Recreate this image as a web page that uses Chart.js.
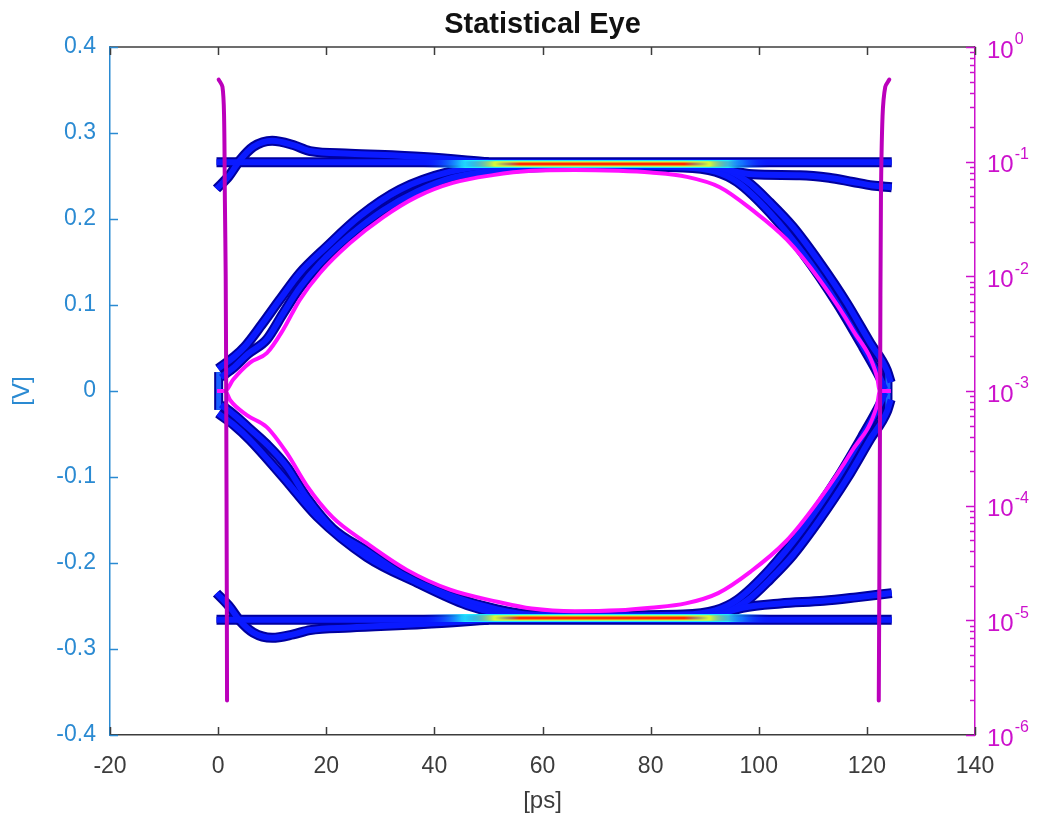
<!DOCTYPE html>
<html>
<head>
<meta charset="utf-8">
<title>Statistical Eye</title>
<script src="https://cdn.jsdelivr.net/npm/chart.js@4.4.0/dist/chart.umd.min.js"></script>
<style>
  html, body { margin: 0; padding: 0; background: #ffffff; }
  #wrap { width: 1042px; height: 825px; }
</style>
</head>
<body>
<div id="wrap"><canvas id="eyeChart" width="1042" height="825"></canvas></div>
<script>
// ---------- values (x in ps, V in volts) ----------
const chartTitle = 'Statistical Eye';
const xMin = -20, xMax = 140, xStep = 20;
const vMin = -0.4, vMax = 0.4, vStep = 0.1;
const berMin = 1e-6, berMax = 1;

// flat "1" and "0" rails
const railUpX = [-0.3, 124.6];
const railUpV = [0.266, 0.266];
const railLoX = [-0.3, 124.6];
const railLoV = [-0.266, -0.266];

// overshoot right after a transition
const overUpX = [-0.3, 2, 4, 6.5, 10, 13.9, 17, 24.4, 38, 50];
const overUpV = [0.235, 0.25, 0.268, 0.284, 0.291, 0.286, 0.279, 0.276, 0.272, 0.266];
const overLoX = [-0.3, 2, 4, 6.5, 10, 13.9, 17, 24.4, 38, 50];
const overLoV = [-0.235, -0.25, -0.267, -0.281, -0.287, -0.283, -0.278, -0.275, -0.271, -0.266];

// droop at the end of the UI
const droopUpX = [88, 93, 98.9, 107.6, 113, 117.4, 121, 124.6];
const droopUpV = [0.265, 0.259, 0.252, 0.251, 0.248, 0.243, 0.239, 0.237];
const droopLoX = [88, 93, 97, 104, 112, 118, 124.6];
const droopLoV = [-0.265, -0.259, -0.252, -0.247, -0.244, -0.24, -0.235];

// rising edges (left) - outer and inner trace
const riseOutX = [0, 3, 5, 7.7, 11.4, 15.1, 20.1, 26.2, 33.6, 42.9, 50.8, 58, 76];
const riseOutV = [0.026, 0.04, 0.052, 0.074, 0.106, 0.137, 0.168, 0.203, 0.234, 0.255, 0.262, 0.263, 0.263];
const riseInX = [0.5, 3, 5.5, 9, 12, 15.1, 18.8, 24.4, 30.5, 36.8, 43.4, 50.8, 58, 76];
const riseInV = [0.016, 0.028, 0.043, 0.06, 0.09, 0.12, 0.148, 0.181, 0.21, 0.232, 0.248, 0.256, 0.26, 0.261];
// falling edges (left, lower half)
const fallOutX = [0, 3, 5.9, 12, 18.3, 27.5, 36.8, 46, 52, 58, 76];
const fallOutV = [-0.026, -0.04, -0.057, -0.1, -0.146, -0.193, -0.223, -0.249, -0.259, -0.263, -0.263];
const fallInX = [0.5, 3, 5.5, 9, 12.7, 16.4, 21.2, 27.5, 34.9, 42.9, 51.6, 58, 76];
const fallInV = [-0.016, -0.028, -0.042, -0.062, -0.088, -0.124, -0.16, -0.186, -0.216, -0.238, -0.254, -0.26, -0.261];

// edges at the right side of the eye
const rightUpOutX = [70, 86, 94, 98, 102.1, 106.3, 111.3, 116.3, 120.6, 123.7, 124.4];
const rightUpOutV = [0.263, 0.263, 0.257, 0.243, 0.219, 0.191, 0.149, 0.102, 0.056, 0.024, 0.01];
const rightUpInX = [70, 86, 92, 96, 102.1, 108.2, 114.5, 119.3, 122.4, 123.4];
const rightUpInV = [0.261, 0.26, 0.255, 0.243, 0.207, 0.16, 0.102, 0.051, 0.016, 0.002];
const rightLoOutX = [70, 86, 94, 98, 102.1, 106.3, 111.3, 116.3, 120.6, 123.7, 124.4];
const rightLoOutV = [-0.263, -0.263, -0.257, -0.243, -0.219, -0.191, -0.149, -0.102, -0.056, -0.024, -0.01];
const rightLoInX = [70, 86, 92, 96, 102.1, 108.2, 114.5, 119.3, 122.4, 123.4];
const rightLoInV = [-0.261, -0.26, -0.255, -0.243, -0.207, -0.16, -0.102, -0.051, -0.016, -0.002];

// crossing stubs around 0 V
const crossLX = [0.1, 0.1];
const crossLV = [-0.022, 0.022];
const crossRX = [123.9, 123.9];
const crossRV = [-0.02, 0.02];

// dense (hot) part of the rails
const hotCyanX = [38, 102];
const hotYellowX = [45, 97];
const hotRedX = [51, 91];
const hotUpV = [0.264, 0.264];
const hotLoV = [-0.264, -0.264];

// BER contour of the eye opening
const contUpX = [-0.2, 1.3, 2.75, 5.9, 9, 12, 15.1, 18.8, 24.4, 30.5, 36.8, 43.4, 50.8, 58, 66, 74, 80, 86.7, 92.8, 98.9, 105.2, 111.3, 117.4, 121.9, 122.4, 124.4];
const contUpV = [0, 0, 0.013, 0.033, 0.044, 0.071, 0.106, 0.137, 0.172, 0.202, 0.226, 0.242, 0.251, 0.256, 0.257, 0.256, 0.254, 0.249, 0.237, 0.21, 0.176, 0.129, 0.071, 0.016, 0, 0];
const contLoX = [-0.2, 1.3, 2.2, 5.3, 9, 12.7, 16.4, 21.2, 27.5, 34.9, 42.9, 51.6, 58, 66, 74, 80, 86.5, 92.5, 98.5, 105, 111, 117.2, 121.9, 122.4, 124.4];
const contLoV = [0, 0, -0.0105, -0.028, -0.042, -0.072, -0.11, -0.147, -0.177, -0.208, -0.231, -0.245, -0.253, -0.256, -0.255, -0.252, -0.247, -0.235, -0.21, -0.175, -0.128, -0.07, -0.016, 0, 0];

// bathtub curves (right axis, BER)
const tubLeftX = [0.1, 0.8, 1.1, 1.25, 1.4, 1.5, 1.6, 1.65];
const tubLeftBer = [0.52, 0.45, 0.25, 0.046, 1e-2, 8e-4, 2e-5, 2e-6];
const tubRightX = [124.15, 123.4, 122.9, 122.6, 122.45, 122.3, 122.2];
const tubRightBer = [0.52, 0.45, 0.25, 0.046, 1e-3, 2e-5, 2e-6];

// ---------- colours ----------
const grayAxis = '#3c3c3c';
const blueAxis = '#2a8ad2';
const magAxis = '#cc11cc';
const bandEdge = '#00009e';
const bandCore = '#0a1aff';

function pts(xs, ys) {
  return xs.map((x, i) => ({ x: x, y: ys[i] }));
}

let datasets = [];

// each blue trace = dark outline + brighter core
function band(name, xs, ys) {
  datasets.push({
    label: name + ' edge', data: pts(xs, ys), yAxisID: 'y',
    borderColor: bandEdge, borderWidth: 10, pointRadius: 0,
    cubicInterpolationMode: 'monotone', borderCapStyle: 'butt',
    order: 20
  });
  datasets.push({
    label: name, data: pts(xs, ys), yAxisID: 'y',
    borderColor: bandCore, borderWidth: 6, pointRadius: 0,
    cubicInterpolationMode: 'monotone', borderCapStyle: 'butt',
    order: 19
  });
}

band('rail up', railUpX, railUpV);
band('rail low', railLoX, railLoV);
band('overshoot up', overUpX, overUpV);
band('overshoot low', overLoX, overLoV);
band('droop up', droopUpX, droopUpV);
band('droop low', droopLoX, droopLoV);
band('rise out', riseOutX, riseOutV);
band('rise in', riseInX, riseInV);
band('fall out', fallOutX, fallOutV);
band('fall in', fallInX, fallInV);
band('right up out', rightUpOutX, rightUpOutV);
band('right up in', rightUpInX, rightUpInV);
band('right low out', rightLoOutX, rightLoOutV);
band('right low in', rightLoInX, rightLoInV);

[[crossLX, crossLV], [crossRX, crossRV]].forEach(function (c, i) {
  datasets.push({ label: 'cross ' + i + ' edge', data: pts(c[0], c[1]), yAxisID: 'y',
    borderColor: bandEdge, borderWidth: 9, pointRadius: 0, order: 20 });
  datasets.push({ label: 'cross ' + i, data: pts(c[0], c[1]), yAxisID: 'y',
    borderColor: '#1a60ff', borderWidth: 5, pointRadius: 0, order: 19 });
});

// hot stripes on the rails, faded at both ends with a gradient along x
function fadeGradient(color, x0, x1) {
  return function (context) {
    const chart = context.chart;
    const sx = chart.scales.x;
    if (!sx || !chart.chartArea) return color;
    const p0 = sx.getPixelForValue(x0), p1 = sx.getPixelForValue(x1);
    const g = chart.ctx.createLinearGradient(p0, 0, p1, 0);
    g.addColorStop(0, 'rgba(10,26,255,0)');
    g.addColorStop(0.12, color);
    g.addColorStop(0.88, color);
    g.addColorStop(1, 'rgba(10,26,255,0)');
    return g;
  };
}
function hot(xs, ys, color, w, ord) {
  datasets.push({ label: 'hot', data: pts(xs, ys), yAxisID: 'y',
    borderColor: fadeGradient(color, xs[0], xs[xs.length - 1]),
    borderWidth: w, pointRadius: 0, order: ord });
}
hot(hotCyanX, hotUpV, '#20e8ff', 8, 15);
hot(hotYellowX, hotUpV, '#e0ff30', 5.5, 14);
hot(hotRedX, hotUpV, '#ff2a00', 3, 13);
hot(hotCyanX, hotLoV, '#20e8ff', 8, 15);
hot(hotYellowX, hotLoV, '#e0ff30', 5.5, 14);
hot(hotRedX, hotLoV, '#ff2a00', 3, 13);

// contour
datasets.push({ label: 'contour up', data: pts(contUpX, contUpV), yAxisID: 'y',
  borderColor: '#ff10ff', borderWidth: 4, pointRadius: 0,
  cubicInterpolationMode: 'monotone', order: 5 });
datasets.push({ label: 'contour low', data: pts(contLoX, contLoV), yAxisID: 'y',
  borderColor: '#ff10ff', borderWidth: 4, pointRadius: 0,
  cubicInterpolationMode: 'monotone', order: 5 });

// bathtubs on the log axis
datasets.push({ label: 'bathtub left', data: pts(tubLeftX, tubLeftBer), yAxisID: 'y2',
  borderColor: '#bb00bb', borderWidth: 4, pointRadius: 0, tension: 0.3,
  borderCapStyle: 'round', order: 1 });
datasets.push({ label: 'bathtub right', data: pts(tubRightX, tubRightBer), yAxisID: 'y2',
  borderColor: '#bb00bb', borderWidth: 4, pointRadius: 0, tension: 0.3,
  borderCapStyle: 'round', order: 1 });

// title over the plot box, inward ticks, top edge and 10^k labels on the right axis
const axesDeco = {
  id: 'axesDeco',
  afterDatasetsDraw(chart) {
    const ctx = chart.ctx;
    const a = chart.chartArea;
    const sx = chart.scales.x, sy = chart.scales.y, sr = chart.scales.y2;
    ctx.save();

    ctx.fillStyle = '#111111';
    ctx.font = 'bold 29px "Liberation Sans", Arial, sans-serif';
    ctx.textAlign = 'center';
    ctx.textBaseline = 'middle';
    ctx.fillText(chartTitle, (a.left + a.right) / 2, 25);

    ctx.lineWidth = 1.5;
    ctx.strokeStyle = grayAxis;
    ctx.beginPath();
    ctx.moveTo(a.left, a.top);
    ctx.lineTo(a.right, a.top);
    ctx.stroke();
    sx.ticks.forEach(function (t) {
      const px = Math.round(sx.getPixelForValue(t.value)) + 0.5;
      ctx.beginPath();
      ctx.moveTo(px, a.bottom); ctx.lineTo(px, a.bottom - 8);
      ctx.moveTo(px, a.top); ctx.lineTo(px, a.top + 8);
      ctx.stroke();
    });

    ctx.strokeStyle = blueAxis;
    sy.ticks.forEach(function (t) {
      const py = Math.round(sy.getPixelForValue(t.value)) + 0.5;
      ctx.beginPath();
      ctx.moveTo(a.left, py); ctx.lineTo(a.left + 8, py);
      ctx.stroke();
    });

    ctx.strokeStyle = magAxis;
    for (let k = -6; k <= 0; k++) {
      for (let m = 1; m <= 9; m++) {
        if (k === 0 && m > 1) break;
        const py = Math.round(sr.getPixelForValue(m * Math.pow(10, k))) + 0.5;
        ctx.beginPath();
        ctx.moveTo(a.right, py); ctx.lineTo(a.right - (m === 1 ? 9 : 5), py);
        ctx.stroke();
      }
    }

    ctx.fillStyle = magAxis;
    ctx.textAlign = 'left';
    for (let k = 0; k >= -6; k--) {
      const py = sr.getPixelForValue(Math.pow(10, k));
      ctx.font = '24px "Liberation Sans", Arial, sans-serif';
      ctx.fillText('10', a.right + 12, py + 4);
      const w = ctx.measureText('10').width;
      ctx.font = '16px "Liberation Sans", Arial, sans-serif';
      ctx.fillText(k === 0 ? '0' : '-' + (-k), a.right + 13 + w, py - 7);
    }
    ctx.restore();
  }
};

Chart.defaults.font.family = '"Liberation Sans", Arial, sans-serif';

const chart = new Chart(document.getElementById('eyeChart'), {
  type: 'line',
  data: { datasets: datasets },
  plugins: [axesDeco],
  options: {
    responsive: false,
    devicePixelRatio: 1,
    animation: false,
    layout: { padding: { top: 47 } },
    plugins: {
      legend: { display: false },
      tooltip: { enabled: false },
      title: { display: false }
    },
    scales: {
      x: {
        type: 'linear', min: xMin, max: xMax,
        ticks: { stepSize: xStep, color: grayAxis, font: { size: 23 }, padding: 18, maxRotation: 0 },
        grid: { drawOnChartArea: false, drawTicks: false },
        border: { color: grayAxis, width: 1.5 },
        title: { display: true, text: '[ps]', color: grayAxis, font: { size: 24 }, padding: { top: 0, bottom: 9 } },
        afterFit: function (s) { s.height = 90; }
      },
      y: {
        type: 'linear', position: 'left', min: vMin, max: vMax,
        ticks: {
          stepSize: vStep, color: blueAxis, font: { size: 23 }, padding: 14,
          callback: function (v) { return Math.abs(v) < 1e-9 ? '0' : v.toFixed(1); }
        },
        grid: { drawOnChartArea: false, drawTicks: false },
        border: { color: blueAxis, width: 1.5 },
        title: { display: true, text: '[V]', color: blueAxis, font: { size: 24 }, padding: { top: 8, bottom: 0 } },
        afterFit: function (s) { s.width = 110; }
      },
      y2: {
        type: 'logarithmic', position: 'right', min: berMin, max: berMax,
        ticks: { display: false },
        grid: { drawOnChartArea: false, drawTicks: false },
        border: { color: magAxis, width: 1.5 },
        afterFit: function (s) { s.width = 67; }
      }
    }
  }
});
</script>
</body>
</html>
